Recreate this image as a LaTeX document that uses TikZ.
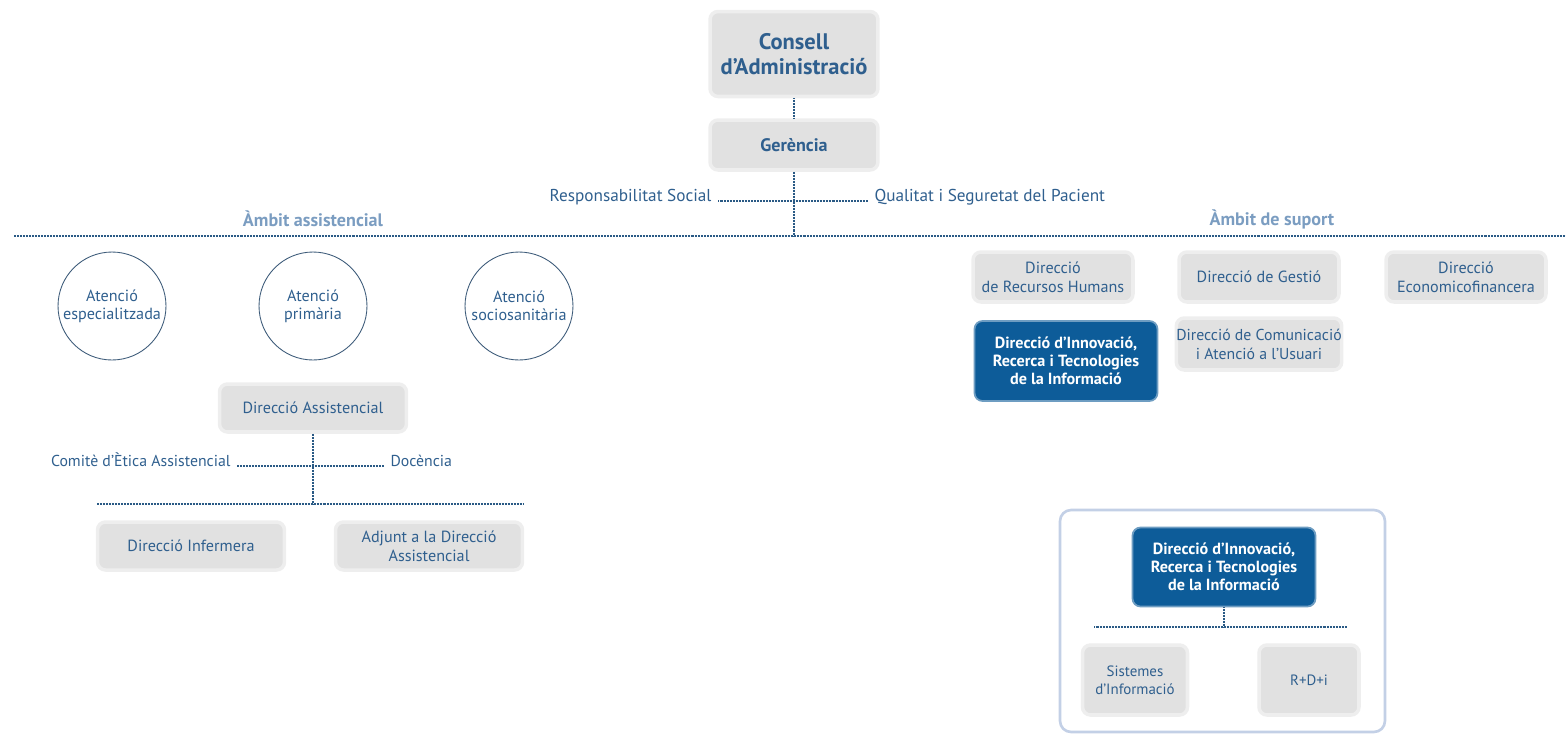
\documentclass[tikz,border=0pt]{standalone}
\usepackage{fontspec}
\setmainfont{PT Sans}
\definecolor{txtblue}{HTML}{2F5F8E}
\definecolor{hdblue}{HTML}{7B9DC1}
\definecolor{darkbox}{HTML}{0D5C99}
\definecolor{boxgrey}{HTML}{E1E1E1}
\definecolor{dotblue}{HTML}{2A5A85}
\definecolor{circblue}{HTML}{3E5C7A}
\definecolor{framblue}{HTML}{C3D0E6}

\begin{document}
\begin{tikzpicture}[x=0.02cm, y=-0.02cm]
  \tikzset{
    gbox/.style={rounded corners=0.16cm, fill=boxgrey, draw=boxgrey!55, line width=2pt,
      text=txtblue, align=center, font=\fontsize{9.2}{10.8}\selectfont, inner sep=2pt},
    bbox/.style={rounded corners=0.16cm, fill=darkbox, draw=darkbox!60, line width=1pt,
      text=white, align=center, font=\bfseries\fontsize{9.2}{10.2}\selectfont,
      minimum width=3.66cm, minimum height=1.58cm},
    circ/.style={circle, draw=circblue, line width=0.5pt, minimum size=2.16cm,
      text=txtblue, align=center, font=\fontsize{9.2}{10.4}\selectfont, inner sep=0pt},
    lbl/.style={text=txtblue, font=\fontsize{9.8}{11}\selectfont, inner ysep=1pt, inner xsep=3.5pt},
    hd/.style={text=hdblue, font=\bfseries\fontsize{10.3}{12}\selectfont},
    dotln/.style={draw=dotblue, line width=0.8pt, dash pattern=on 0.45pt off 0.4pt},
    frame/.style={rounded corners=0.22cm, draw=framblue, line width=1.5pt, fill=white}
  }
  \useasboundingbox (0,0) rectangle (1566,735);
  %
  \node [gbox, minimum width=3.36cm, minimum height=1.7cm,
    font=\bfseries\fontsize{12.8}{14.5}\selectfont] (consell) at (794,54) {Consell\\d’Administració};
  \node [gbox, minimum width=3.36cm, minimum height=1cm,
    font=\bfseries\fontsize{10.3}{12}\selectfont] (ger) at (794,145) {Gerència};
  \draw [dotln] (consell) -- (ger);
  %
  \coordinate (mainL) at (14,236);
  \coordinate (mainR) at (1566,236);
  \draw [dotln] (mainL) -- (mainR);
  \draw [dotln] (ger) -- (ger |- mainL);
  \node [lbl, anchor=base east] (resp) at (718,201) {Responsabilitat Social};
  \node [lbl, anchor=base west] (qual) at (868,201) {Qualitat i Seguretat del Pacient};
  \draw [dotln] (resp.base east) -- (qual.base west);
  \node [hd] (amb1) at (313,219) {Àmbit assistencial};
  \node [hd] (amb2) at (1272,219) {Àmbit de suport};
  %
  \foreach \nm/\x/\txt in {esp/112/{Atenció\\especialitzada}, pri/313/{Atenció\\primària},
    soc/519/{Atenció\\sociosanitària}} {
    \node [circ] (\nm) at (\x,306) {\txt};
  }
  %
  \node [gbox, minimum width=3.74cm, minimum height=0.96cm] (dass) at (313,408) {Direcció Assistencial};
  \coordinate (assL) at (97,504);
  \coordinate (assR) at (523,504);
  \draw [dotln] (assL) -- (assR);
  \draw [dotln] (dass) -- (dass |- assL);
  \node [lbl, anchor=base east, font=\fontsize{9}{11}\selectfont] (etica) at (237,466) {Comitè d’Ètica Assistencial};
  \node [lbl, anchor=base west, font=\fontsize{9}{11}\selectfont] (doc) at (384,466) {Docència};
  \draw [dotln] (etica.base east) -- (doc.base west);
  \node [gbox, minimum width=3.74cm, minimum height=0.96cm] (inf) at (191,546) {Direcció Infermera};
  \node [gbox, minimum width=3.74cm, minimum height=0.96cm] (adj) at (429,546) {Adjunt a la Direcció\\Assistencial};
  %
  \node [gbox, minimum width=3.2cm, minimum height=1cm] (rrhh) at (1053,277) {Direcció\\de Recursos Humans};
  \node [gbox, minimum width=3.2cm, minimum height=1cm] (gest) at (1259,277) {Direcció de Gestió};
  \node [gbox, minimum width=3.2cm, minimum height=1cm] (eco) at (1466,277) {Direcció\\Economicofinancera};
  \node [bbox, minimum height=1.6cm] (innov) at (1066,361) {Direcció d’Innovació,\\Recerca i Tecnologies\\de la Informació};
  \node [gbox, minimum width=3.24cm, minimum height=1.04cm, inner xsep=0pt,
    font=\fontsize{9}{10.8}\selectfont] (comu) at (1259,344) {Direcció de Comunicació\\i Atenció a l’Usuari};
  %
  \node [frame, minimum width=6.5cm, minimum height=4.44cm] (zoomfr) at (1222.5,621) {};
  \node [bbox] (innov2) at (1224,567) {Direcció d’Innovació,\\Recerca i Tecnologies\\de la Informació};
  \coordinate (subL) at (1094,627);
  \coordinate (subR) at (1347,627);
  \draw [dotln] (subL) -- (subR);
  \draw [dotln] (innov2) -- (innov2 |- subL);
  \node [gbox, minimum width=2.1cm, minimum height=1.4cm,
    font=\fontsize{8.5}{10}\selectfont] (sis) at (1135,680) {Sistemes\\d’Informació};
  \node [gbox, minimum width=2cm, minimum height=1.4cm,
    font=\fontsize{8.5}{10}\selectfont] (rdi) at (1309,680) {R+D+i};
\end{tikzpicture}
\end{document}
